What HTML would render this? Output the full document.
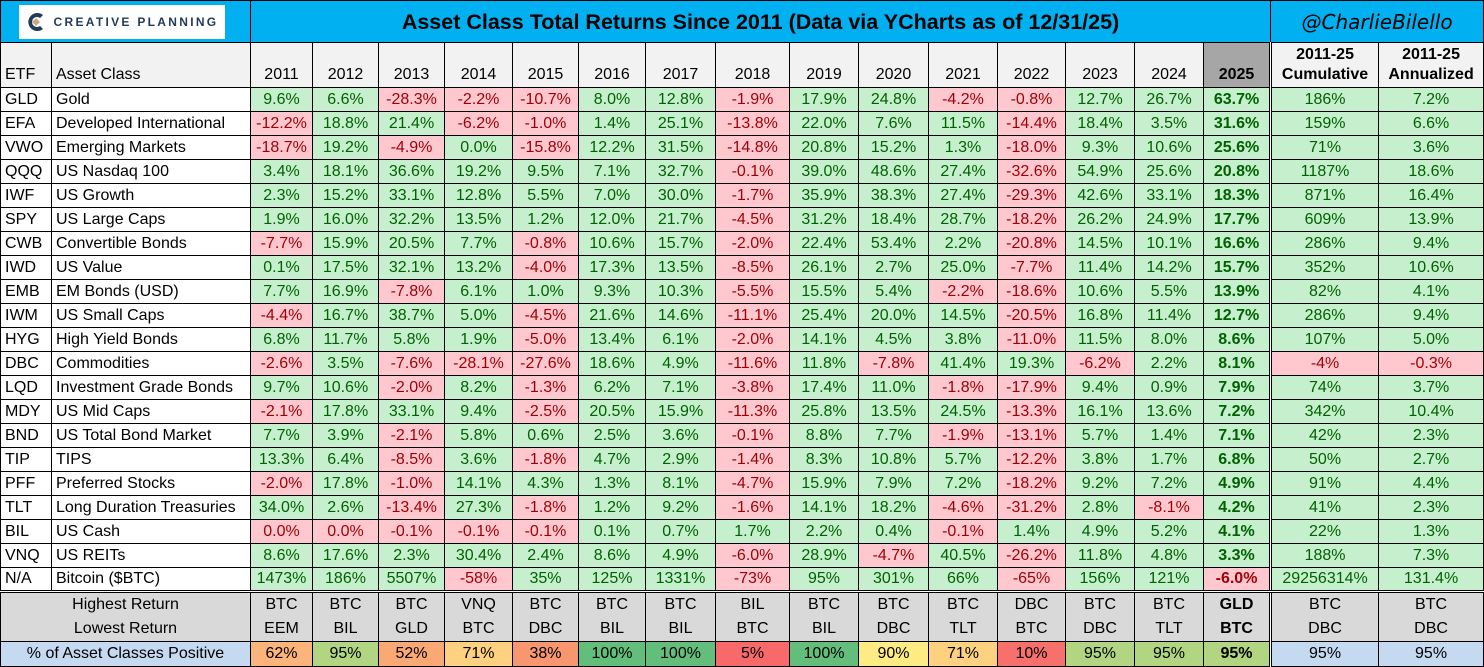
<!DOCTYPE html>
<html><head><meta charset="utf-8">
<style>
*{margin:0;padding:0;box-sizing:border-box}
body{width:1484px;height:666px;background:#fff;font-family:"Liberation Sans",Arial,sans-serif;overflow:hidden}
table{border-collapse:collapse;table-layout:fixed;width:1483px;font-size:16px}
td{border:1px solid #000;text-align:center;white-space:nowrap;overflow:hidden;padding:0;height:24px;line-height:22px}
tr.t td{height:42px;background:#00B0F0;font-weight:bold;font-size:21.5px}
tr.h td{height:45px;background:#F2F2F2;vertical-align:bottom;line-height:20px;padding-bottom:2px}
td.l{text-align:left;padding-left:4px;color:#000}
.g{background:#C6EFCE;color:#006100}
.r{background:#FFC7CE;color:#9C0006}
tr td:nth-child(17){font-weight:bold}
tr td:nth-child(18){border-left:3px double #000}
tr.b td:nth-child(17){font-weight:normal;border-left:3px double #000}
tr.b td:nth-child(18){border-left:1px solid #000}
tr.b td:nth-child(16){font-weight:bold}
tr.last td{border-bottom:3px double #000}
tr.b td{background:#D9D9D9;border-top:none;border-bottom:none;line-height:24px}
tr.p td{border-top:1px solid #000;border-bottom:1px solid #000}
.bl{background:#C5D9F1!important}
</style></head><body>
<table>
<colgroup><col style="width:51px"><col style="width:199px"><col style="width:62px"><col style="width:66px"><col style="width:66px"><col style="width:68px"><col style="width:66px"><col style="width:67px"><col style="width:70px"><col style="width:74px"><col style="width:69px"><col style="width:70px"><col style="width:69px"><col style="width:68px"><col style="width:69px"><col style="width:69px"><col style="width:67px"><col style="width:108px"><col style="width:105px"></colgroup>
<tr class="t"><td colspan="2" style="position:relative"><div style="position:absolute;left:18px;top:4px;width:206px;height:34px;background:#fff;display:flex;align-items:center;justify-content:center;gap:8px"><svg width="20" height="22" viewBox="0 0 20 22"><path d="M17 4 A9 9 0 1 0 17 18 L14 15 A5 5 0 1 1 14 7 Z" fill="#1F3B57"/><path d="M10 7 L14 11 L10 15 L6 11 Z" fill="#C9A97A"/></svg><span style="color:#1F3B57;font-size:12px;letter-spacing:2.3px;font-weight:bold">CREATIVE PLANNING</span></div></td><td colspan="15" style="text-align:center">Asset Class Total Returns Since 2011 (Data via YCharts as of 12/31/25)</td><td colspan="2" style="font-family:'DejaVu Sans',sans-serif;font-style:italic;font-weight:normal;font-size:20px">@CharlieBilello</td></tr>
<tr class="h"><td class="l">ETF</td><td class="l">Asset Class</td><td>2011</td><td>2012</td><td>2013</td><td>2014</td><td>2015</td><td>2016</td><td>2017</td><td>2018</td><td>2019</td><td>2020</td><td>2021</td><td>2022</td><td>2023</td><td>2024</td><td style="background:#A6A6A6">2025</td><td style="font-weight:bold">2011-25<br>Cumulative</td><td style="font-weight:bold">2011-25<br>Annualized</td></tr>
<tr><td class="l">GLD</td><td class="l">Gold</td><td class="g">9.6%</td><td class="g">6.6%</td><td class="r">-28.3%</td><td class="r">-2.2%</td><td class="r">-10.7%</td><td class="g">8.0%</td><td class="g">12.8%</td><td class="r">-1.9%</td><td class="g">17.9%</td><td class="g">24.8%</td><td class="r">-4.2%</td><td class="r">-0.8%</td><td class="g">12.7%</td><td class="g">26.7%</td><td class="g">63.7%</td><td class="g">186%</td><td class="g">7.2%</td></tr>
<tr><td class="l">EFA</td><td class="l">Developed International</td><td class="r">-12.2%</td><td class="g">18.8%</td><td class="g">21.4%</td><td class="r">-6.2%</td><td class="r">-1.0%</td><td class="g">1.4%</td><td class="g">25.1%</td><td class="r">-13.8%</td><td class="g">22.0%</td><td class="g">7.6%</td><td class="g">11.5%</td><td class="r">-14.4%</td><td class="g">18.4%</td><td class="g">3.5%</td><td class="g">31.6%</td><td class="g">159%</td><td class="g">6.6%</td></tr>
<tr><td class="l">VWO</td><td class="l">Emerging Markets</td><td class="r">-18.7%</td><td class="g">19.2%</td><td class="r">-4.9%</td><td class="g">0.0%</td><td class="r">-15.8%</td><td class="g">12.2%</td><td class="g">31.5%</td><td class="r">-14.8%</td><td class="g">20.8%</td><td class="g">15.2%</td><td class="g">1.3%</td><td class="r">-18.0%</td><td class="g">9.3%</td><td class="g">10.6%</td><td class="g">25.6%</td><td class="g">71%</td><td class="g">3.6%</td></tr>
<tr><td class="l">QQQ</td><td class="l">US Nasdaq 100</td><td class="g">3.4%</td><td class="g">18.1%</td><td class="g">36.6%</td><td class="g">19.2%</td><td class="g">9.5%</td><td class="g">7.1%</td><td class="g">32.7%</td><td class="r">-0.1%</td><td class="g">39.0%</td><td class="g">48.6%</td><td class="g">27.4%</td><td class="r">-32.6%</td><td class="g">54.9%</td><td class="g">25.6%</td><td class="g">20.8%</td><td class="g">1187%</td><td class="g">18.6%</td></tr>
<tr><td class="l">IWF</td><td class="l">US Growth</td><td class="g">2.3%</td><td class="g">15.2%</td><td class="g">33.1%</td><td class="g">12.8%</td><td class="g">5.5%</td><td class="g">7.0%</td><td class="g">30.0%</td><td class="r">-1.7%</td><td class="g">35.9%</td><td class="g">38.3%</td><td class="g">27.4%</td><td class="r">-29.3%</td><td class="g">42.6%</td><td class="g">33.1%</td><td class="g">18.3%</td><td class="g">871%</td><td class="g">16.4%</td></tr>
<tr><td class="l">SPY</td><td class="l">US Large Caps</td><td class="g">1.9%</td><td class="g">16.0%</td><td class="g">32.2%</td><td class="g">13.5%</td><td class="g">1.2%</td><td class="g">12.0%</td><td class="g">21.7%</td><td class="r">-4.5%</td><td class="g">31.2%</td><td class="g">18.4%</td><td class="g">28.7%</td><td class="r">-18.2%</td><td class="g">26.2%</td><td class="g">24.9%</td><td class="g">17.7%</td><td class="g">609%</td><td class="g">13.9%</td></tr>
<tr><td class="l">CWB</td><td class="l">Convertible Bonds</td><td class="r">-7.7%</td><td class="g">15.9%</td><td class="g">20.5%</td><td class="g">7.7%</td><td class="r">-0.8%</td><td class="g">10.6%</td><td class="g">15.7%</td><td class="r">-2.0%</td><td class="g">22.4%</td><td class="g">53.4%</td><td class="g">2.2%</td><td class="r">-20.8%</td><td class="g">14.5%</td><td class="g">10.1%</td><td class="g">16.6%</td><td class="g">286%</td><td class="g">9.4%</td></tr>
<tr><td class="l">IWD</td><td class="l">US Value</td><td class="g">0.1%</td><td class="g">17.5%</td><td class="g">32.1%</td><td class="g">13.2%</td><td class="r">-4.0%</td><td class="g">17.3%</td><td class="g">13.5%</td><td class="r">-8.5%</td><td class="g">26.1%</td><td class="g">2.7%</td><td class="g">25.0%</td><td class="r">-7.7%</td><td class="g">11.4%</td><td class="g">14.2%</td><td class="g">15.7%</td><td class="g">352%</td><td class="g">10.6%</td></tr>
<tr><td class="l">EMB</td><td class="l">EM Bonds (USD)</td><td class="g">7.7%</td><td class="g">16.9%</td><td class="r">-7.8%</td><td class="g">6.1%</td><td class="g">1.0%</td><td class="g">9.3%</td><td class="g">10.3%</td><td class="r">-5.5%</td><td class="g">15.5%</td><td class="g">5.4%</td><td class="r">-2.2%</td><td class="r">-18.6%</td><td class="g">10.6%</td><td class="g">5.5%</td><td class="g">13.9%</td><td class="g">82%</td><td class="g">4.1%</td></tr>
<tr><td class="l">IWM</td><td class="l">US Small Caps</td><td class="r">-4.4%</td><td class="g">16.7%</td><td class="g">38.7%</td><td class="g">5.0%</td><td class="r">-4.5%</td><td class="g">21.6%</td><td class="g">14.6%</td><td class="r">-11.1%</td><td class="g">25.4%</td><td class="g">20.0%</td><td class="g">14.5%</td><td class="r">-20.5%</td><td class="g">16.8%</td><td class="g">11.4%</td><td class="g">12.7%</td><td class="g">286%</td><td class="g">9.4%</td></tr>
<tr><td class="l">HYG</td><td class="l">High Yield Bonds</td><td class="g">6.8%</td><td class="g">11.7%</td><td class="g">5.8%</td><td class="g">1.9%</td><td class="r">-5.0%</td><td class="g">13.4%</td><td class="g">6.1%</td><td class="r">-2.0%</td><td class="g">14.1%</td><td class="g">4.5%</td><td class="g">3.8%</td><td class="r">-11.0%</td><td class="g">11.5%</td><td class="g">8.0%</td><td class="g">8.6%</td><td class="g">107%</td><td class="g">5.0%</td></tr>
<tr><td class="l">DBC</td><td class="l">Commodities</td><td class="r">-2.6%</td><td class="g">3.5%</td><td class="r">-7.6%</td><td class="r">-28.1%</td><td class="r">-27.6%</td><td class="g">18.6%</td><td class="g">4.9%</td><td class="r">-11.6%</td><td class="g">11.8%</td><td class="r">-7.8%</td><td class="g">41.4%</td><td class="g">19.3%</td><td class="r">-6.2%</td><td class="g">2.2%</td><td class="g">8.1%</td><td class="r">-4%</td><td class="r">-0.3%</td></tr>
<tr><td class="l">LQD</td><td class="l">Investment Grade Bonds</td><td class="g">9.7%</td><td class="g">10.6%</td><td class="r">-2.0%</td><td class="g">8.2%</td><td class="r">-1.3%</td><td class="g">6.2%</td><td class="g">7.1%</td><td class="r">-3.8%</td><td class="g">17.4%</td><td class="g">11.0%</td><td class="r">-1.8%</td><td class="r">-17.9%</td><td class="g">9.4%</td><td class="g">0.9%</td><td class="g">7.9%</td><td class="g">74%</td><td class="g">3.7%</td></tr>
<tr><td class="l">MDY</td><td class="l">US Mid Caps</td><td class="r">-2.1%</td><td class="g">17.8%</td><td class="g">33.1%</td><td class="g">9.4%</td><td class="r">-2.5%</td><td class="g">20.5%</td><td class="g">15.9%</td><td class="r">-11.3%</td><td class="g">25.8%</td><td class="g">13.5%</td><td class="g">24.5%</td><td class="r">-13.3%</td><td class="g">16.1%</td><td class="g">13.6%</td><td class="g">7.2%</td><td class="g">342%</td><td class="g">10.4%</td></tr>
<tr><td class="l">BND</td><td class="l">US Total Bond Market</td><td class="g">7.7%</td><td class="g">3.9%</td><td class="r">-2.1%</td><td class="g">5.8%</td><td class="g">0.6%</td><td class="g">2.5%</td><td class="g">3.6%</td><td class="r">-0.1%</td><td class="g">8.8%</td><td class="g">7.7%</td><td class="r">-1.9%</td><td class="r">-13.1%</td><td class="g">5.7%</td><td class="g">1.4%</td><td class="g">7.1%</td><td class="g">42%</td><td class="g">2.3%</td></tr>
<tr><td class="l">TIP</td><td class="l">TIPS</td><td class="g">13.3%</td><td class="g">6.4%</td><td class="r">-8.5%</td><td class="g">3.6%</td><td class="r">-1.8%</td><td class="g">4.7%</td><td class="g">2.9%</td><td class="r">-1.4%</td><td class="g">8.3%</td><td class="g">10.8%</td><td class="g">5.7%</td><td class="r">-12.2%</td><td class="g">3.8%</td><td class="g">1.7%</td><td class="g">6.8%</td><td class="g">50%</td><td class="g">2.7%</td></tr>
<tr><td class="l">PFF</td><td class="l">Preferred Stocks</td><td class="r">-2.0%</td><td class="g">17.8%</td><td class="r">-1.0%</td><td class="g">14.1%</td><td class="g">4.3%</td><td class="g">1.3%</td><td class="g">8.1%</td><td class="r">-4.7%</td><td class="g">15.9%</td><td class="g">7.9%</td><td class="g">7.2%</td><td class="r">-18.2%</td><td class="g">9.2%</td><td class="g">7.2%</td><td class="g">4.9%</td><td class="g">91%</td><td class="g">4.4%</td></tr>
<tr><td class="l">TLT</td><td class="l">Long Duration Treasuries</td><td class="g">34.0%</td><td class="g">2.6%</td><td class="r">-13.4%</td><td class="g">27.3%</td><td class="r">-1.8%</td><td class="g">1.2%</td><td class="g">9.2%</td><td class="r">-1.6%</td><td class="g">14.1%</td><td class="g">18.2%</td><td class="r">-4.6%</td><td class="r">-31.2%</td><td class="g">2.8%</td><td class="r">-8.1%</td><td class="g">4.2%</td><td class="g">41%</td><td class="g">2.3%</td></tr>
<tr><td class="l">BIL</td><td class="l">US Cash</td><td class="r">0.0%</td><td class="r">0.0%</td><td class="r">-0.1%</td><td class="r">-0.1%</td><td class="r">-0.1%</td><td class="g">0.1%</td><td class="g">0.7%</td><td class="g">1.7%</td><td class="g">2.2%</td><td class="g">0.4%</td><td class="r">-0.1%</td><td class="g">1.4%</td><td class="g">4.9%</td><td class="g">5.2%</td><td class="g">4.1%</td><td class="g">22%</td><td class="g">1.3%</td></tr>
<tr><td class="l">VNQ</td><td class="l">US REITs</td><td class="g">8.6%</td><td class="g">17.6%</td><td class="g">2.3%</td><td class="g">30.4%</td><td class="g">2.4%</td><td class="g">8.6%</td><td class="g">4.9%</td><td class="r">-6.0%</td><td class="g">28.9%</td><td class="r">-4.7%</td><td class="g">40.5%</td><td class="r">-26.2%</td><td class="g">11.8%</td><td class="g">4.8%</td><td class="g">3.3%</td><td class="g">188%</td><td class="g">7.3%</td></tr>
<tr class="last"><td class="l">N/A</td><td class="l">Bitcoin ($BTC)</td><td class="g">1473%</td><td class="g">186%</td><td class="g">5507%</td><td class="r">-58%</td><td class="g">35%</td><td class="g">125%</td><td class="g">1331%</td><td class="r">-73%</td><td class="g">95%</td><td class="g">301%</td><td class="g">66%</td><td class="r">-65%</td><td class="g">156%</td><td class="g">121%</td><td class="r">-6.0%</td><td class="g">29256314%</td><td class="g">131.4%</td></tr>
<tr class="b"><td colspan="2">Highest Return</td><td>BTC</td><td>BTC</td><td>BTC</td><td>VNQ</td><td>BTC</td><td>BTC</td><td>BTC</td><td>BIL</td><td>BTC</td><td>BTC</td><td>BTC</td><td>DBC</td><td>BTC</td><td>BTC</td><td>GLD</td><td>BTC</td><td>BTC</td></tr>
<tr class="b"><td colspan="2">Lowest Return</td><td>EEM</td><td>BIL</td><td>GLD</td><td>BTC</td><td>DBC</td><td>BIL</td><td>BIL</td><td>BTC</td><td>BIL</td><td>DBC</td><td>TLT</td><td>BTC</td><td>DBC</td><td>TLT</td><td>BTC</td><td>DBC</td><td>DBC</td></tr>
<tr class="b p"><td colspan="2" class="bl">% of Asset Classes Positive</td><td style="background:#FBB57A">62%</td><td style="background:#B1D580">95%</td><td style="background:#FAA975">52%</td><td style="background:#FDD17F">71%</td><td style="background:#F8976F">38%</td><td style="background:#63BE7B">100%</td><td style="background:#63BE7B">100%</td><td style="background:#F8696B">5%</td><td style="background:#63BE7B">100%</td><td style="background:#FFEB84">90%</td><td style="background:#FDD17F">71%</td><td style="background:#F8706C">10%</td><td style="background:#B1D580">95%</td><td style="background:#B1D580">95%</td><td style="background:#B1D580">95%</td><td class="bl">95%</td><td class="bl">95%</td></tr>
</table>
</body></html>
